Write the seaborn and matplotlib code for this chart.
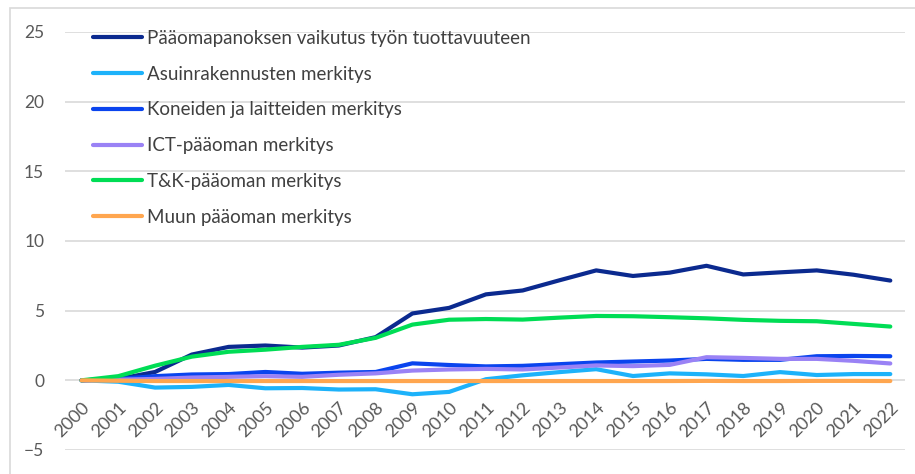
import matplotlib
matplotlib.use("Agg")
import matplotlib.pyplot as plt
import seaborn as sns
import pandas as pd
from matplotlib.patches import Rectangle

years = [str(y) for y in range(2000, 2023)]

paaoma = [0, 0.1, 0.6, 1.85, 2.4, 2.5, 2.35, 2.5, 3.1, 4.8, 5.2, 6.17,
          6.45, 7.18, 7.89, 7.49, 7.73, 8.22, 7.6, 7.75, 7.89, 7.58, 7.16]
asuin = [0, -0.1, -0.52, -0.47, -0.33, -0.57, -0.55, -0.66, -0.64, -1.0, -0.83, 0.08,
         0.36, 0.59, 0.8, 0.31, 0.5, 0.43, 0.31, 0.59, 0.38, 0.45, 0.45]
koneet = [0, 0.1, 0.3, 0.42, 0.45, 0.6, 0.47, 0.55, 0.6, 1.22, 1.1, 1.0,
          1.04, 1.16, 1.28, 1.35, 1.42, 1.54, 1.47, 1.47, 1.73, 1.75, 1.73]
ict = [0, 0.05, 0.1, 0.2, 0.25, 0.3, 0.25, 0.4, 0.5, 0.7, 0.78, 0.82,
       0.78, 0.92, 1.07, 1.02, 1.11, 1.66, 1.61, 1.54, 1.54, 1.4, 1.21]
tk = [0, 0.3, 1.05, 1.7, 2.05, 2.2, 2.4, 2.55, 3.05, 4.0, 4.35, 4.4,
      4.36, 4.5, 4.62, 4.6, 4.53, 4.45, 4.34, 4.27, 4.24, 4.05, 3.86]
muu = [0, -0.03, -0.05, -0.05, -0.05, -0.05, -0.05, -0.05, -0.05, -0.05, -0.05, -0.05,
       -0.05, -0.05, -0.05, -0.05, -0.05, -0.04, -0.05, -0.05, -0.04, -0.04, -0.05]

labels = ["Pääomapanoksen vaikutus työn tuottavuuteen",
          "Asuinrakennusten merkitys",
          "Koneiden ja laitteiden merkitys",
          "ICT-pääoman merkitys",
          "T&K-pääoman merkitys",
          "Muun pääoman merkitys"]
colors = ["#0B2A8F", "#1DB2FA", "#0A44EE", "#9A82F5", "#00DD55", "#FFA64F"]

df = pd.DataFrame({"vuosi": years})
for lab, vals in zip(labels, [paaoma, asuin, koneet, ict, tk, muu]):
    df[lab] = vals
long = df.melt(id_vars="vuosi", var_name="sarja", value_name="arvo")

sns.set_style("white")
plt.rcParams["font.family"] = ["Lato", "DejaVu Sans"]

fig = plt.figure(figsize=(9.15, 4.74), dpi=100)
ax = fig.add_axes([65 / 915, 1 - 450 / 474, 840 / 915, 418 / 474])

sns.lineplot(data=long, x="vuosi", y="arvo", hue="sarja", hue_order=labels,
             palette=colors, linewidth=3, ax=ax, legend=True, zorder=3)

ax.set_ylim(-5, 25)
ax.set_yticks([-5, 0, 5, 10, 15, 20, 25])
ax.set_xlim(-0.45, 22.4)
ax.grid(axis="y", color="#D9D9D9", linewidth=1.2)
ax.set_axisbelow(True)
for s in ["top", "right", "left"]:
    ax.spines[s].set_visible(False)
ax.spines["bottom"].set_position(("data", 0))
ax.spines["bottom"].set_visible(False)
ax.set_xlabel("")
ax.set_ylabel("")
ax.tick_params(axis="y", length=0, pad=15, labelsize=12.5, labelcolor="#595959")
ax.tick_params(axis="x", length=0, pad=14, labelsize=13, labelcolor="#595959")
plt.setp(ax.get_xticklabels(), rotation=45, ha="right", rotation_mode="anchor")

h, l = ax.get_legend_handles_labels()
ax.legend(h, l, loc="upper left", bbox_to_anchor=(93 / 915, 1 - 30 / 474),
          bbox_transform=fig.transFigure, frameon=False, fontsize=13.5,
          handlelength=2.6, handletextpad=0.3, labelspacing=1.0,
          borderpad=0, borderaxespad=0, labelcolor="#404040")

fig.patches.append(Rectangle((10 / 915, -0.1), 1.2, 1.1 - 8 / 474, transform=fig.transFigure,
                             fill=False, edgecolor="#D9D9D9", linewidth=1.2))

fig.savefig("out.png", dpi=100, facecolor="white")
